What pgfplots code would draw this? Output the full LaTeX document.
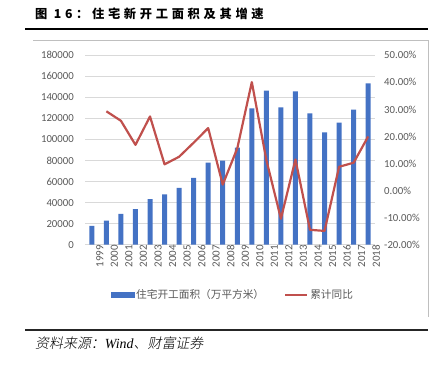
\documentclass[border=0pt]{standalone}
\usepackage{pgfplots}
\pgfplotsset{compat=1.18}
\usepackage{fontspec}
\setmainfont{Carlito}
\newfontfamily\cjk{Noto Sans CJK SC}
\newfontfamily\cjktitle[LetterSpace=30]{Noto Sans CJK SC}
\newfontfamily\cjkit[FakeSlant=0.2]{Noto Sans CJK SC Light}
\newfontfamily\serifit{Liberation Serif}
\definecolor{barblue}{HTML}{4472C4}
\definecolor{linered}{HTML}{C0504D}
\definecolor{gridgray}{HTML}{D9D9D9}
\definecolor{labgray}{HTML}{595959}
\definecolor{framegray}{HTML}{BFBFBF}
\begin{document}
\begin{tikzpicture}[x=1bp,y=1bp]
\useasboundingbox (0,0) rectangle (438,364);
% title and rules
\node[anchor=west,inner sep=0pt] at (35,350) {\fontsize{12.3}{14}\selectfont\cjktitle\bfseries 图 16：住宅新开工面积及其增速};
\draw[line width=1.3bp] (25,335) -- (428,335);
\draw[framegray,line width=0.8bp] (33,324) -- (428,324) -- (428,47);
\draw[line width=2bp,black!85] (25,34) -- (428,34);
\node[anchor=west,inner sep=0pt] at (35,21) {\fontsize{14}{16}\selectfont{\cjkit 资料来源：}{\serifit\itshape Wind}{\cjkit 、财富证券}};

\begin{axis}[
  at={(85bp,119.3bp)}, anchor=south west,
  scale only axis, width=290bp, height=189.4bp,
  xmin=-0.47, xmax=19.47,
  ymin=0, ymax=180000,
  ytick={0,20000,...,180000},
  xtick={0,...,19},
  xticklabels={1999,2000,2001,2002,2003,2004,2005,2006,2007,2008,2009,2010,2011,2012,2013,2014,2015,2016,2017,2018},
  xticklabel style={rotate=90, anchor=east, inner sep=0pt, yshift=-8bp, font=\fontsize{11}{12}\selectfont, text=labgray},
  yticklabel style={anchor=east, inner sep=0pt, xshift=-11bp, font=\fontsize{10.8}{12}\selectfont, text=labgray},
  yticklabel={\pgfmathprintnumber[fixed,precision=0,set thousands separator={},assume math mode=true]{\tick}},
  scaled y ticks=false,
  ymajorgrids, grid style={gridgray, line width=0.8bp},
  axis line style={draw=none}, tick style={draw=none},
  clip=false,
]
\addplot[ybar, bar width=5bp, fill=barblue, draw=none] coordinates {
 (0,18000) (1,22800) (2,29200) (3,33900) (4,43400) (5,47900) (6,53900) (7,63400) (8,77900) (9,79800)
 (10,92200) (11,129600) (12,146400) (13,130600) (14,145800) (15,124900) (16,106800) (17,116000) (18,128300) (19,153400)
};
\end{axis}

\begin{axis}[
  at={(85bp,119.3bp)}, anchor=south west,
  scale only axis, width=290bp, height=189.4bp,
  xmin=-0.47, xmax=19.47,
  ymin=-20, ymax=50,
  ytick={-20,-10,...,50},
  axis y line*=right,
  hide x axis,
  yticklabel={\pgfmathprintnumber[fixed,fixed zerofill,precision=2,assume math mode=true]{\tick}\%},
  yticklabel style={anchor=west, inner sep=0pt, xshift=9bp, font=\fontsize{10.8}{12}\selectfont, text=labgray},
  axis line style={draw=none}, tick style={draw=none},
  clip=false,
  legend columns=2,
  legend style={at={(0.51,-0.266)}, anchor=center, draw=none, fill=none,
    font=\fontsize{10.7}{12}\selectfont\cjk, text=labgray,
    /tikz/every even column/.append style={column sep=18bp}},
]
\addlegendimage{legend image code/.code={\fill[barblue] (0bp,-2.5bp) rectangle (23bp,2.5bp);}}
\addlegendentry{住宅开工面积（万平方米）}
\addplot[linered, line width=2.2bp, line join=round,
  legend image code/.code={\draw[linered,line width=2.2bp] (0bp,0bp) -- (22bp,0bp);}] coordinates {
 (1,29.3) (2,25.8) (3,16.9) (4,27.4) (5,9.7) (6,12.5) (7,17.7) (8,23.1) (9,2.2) (10,15.6)
 (11,40.1) (12,11.3) (13,-10.4) (14,11.5) (15,-14.5) (16,-14.9) (17,8.8) (18,10.3) (19,20.0)
};
\addlegendentry{累计同比}
\end{axis}
\end{tikzpicture}
\end{document}
